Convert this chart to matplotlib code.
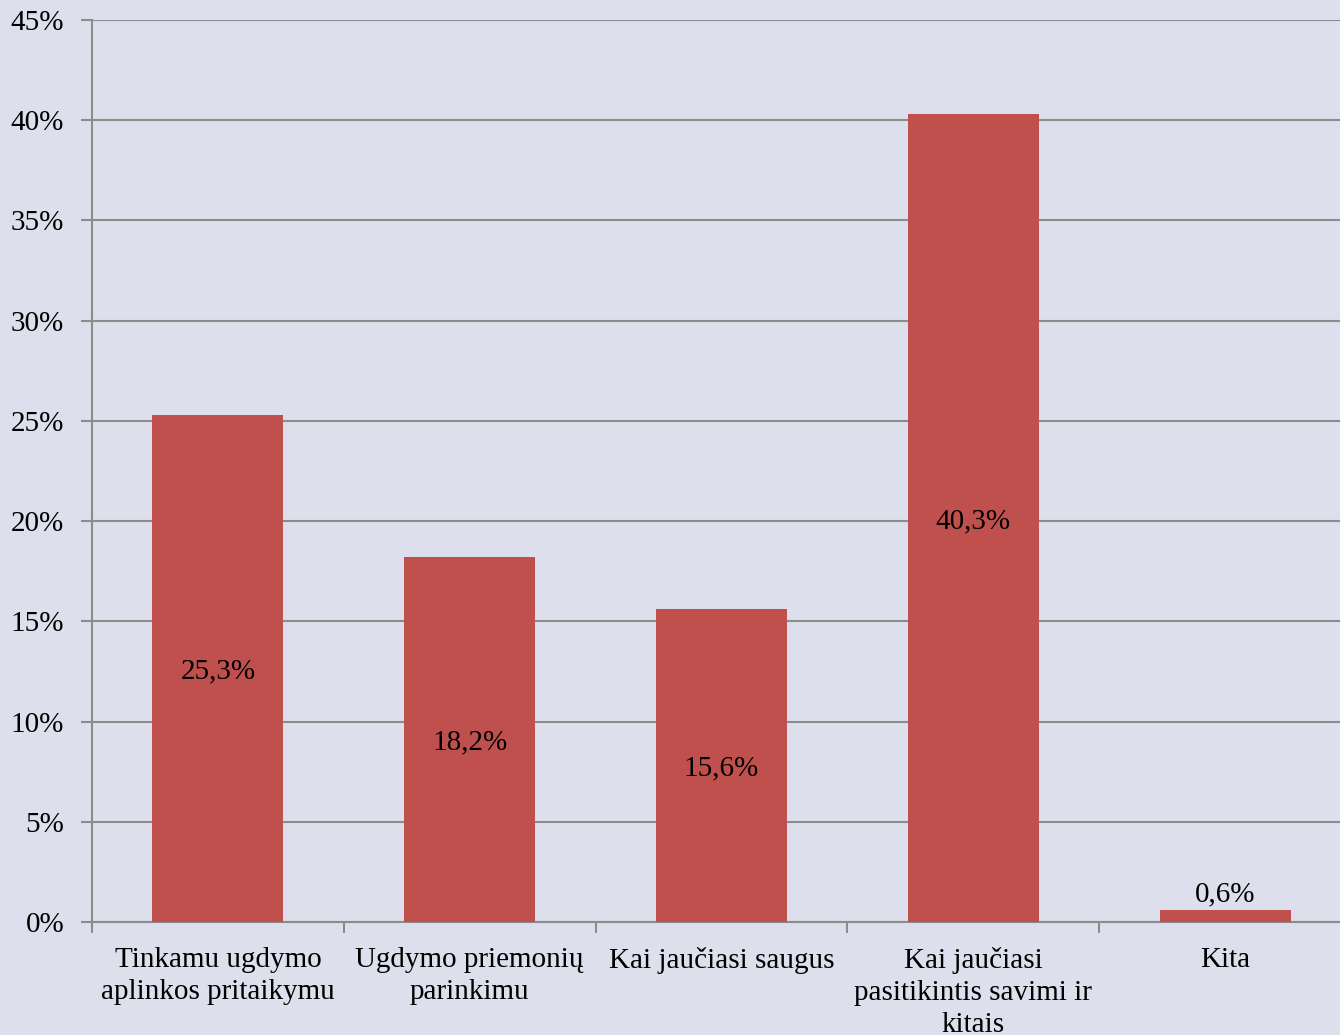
import matplotlib
matplotlib.use("Agg")
from matplotlib import pyplot as plt
import numpy as np

categories = ["Tinkamu ugdymo\naplinkos pritaikymu",
              "Ugdymo priemonių\nparinkimu",
              "Kai jaučiasi saugus",
              "Kai jaučiasi\npasitikintis savimi ir\nkitais",
              "Kita"]
values = [25.3, 18.2, 15.6, 40.3, 0.6]
value_labels = ["25,3%", "18,2%", "15,6%", "40,3%", "0,6%"]
y_ticks = [0, 5, 10, 15, 20, 25, 30, 35, 40, 45]

bg = "#DDE0EC"
bar_color = "#C0504D"
grid_color = "#8C8C8C"
fs = 21

plt.rcParams['font.family'] = ['Liberation Serif', 'DejaVu Serif']

fig = plt.figure(figsize=(13.4, 10.35), dpi=100, facecolor=bg)
# the plot area runs a little past the right edge of the picture
ax = fig.add_axes([92 / 1340, 1 - 922 / 1035, 1259 / 1340, (922 - 20) / 1035])
ax.set_facecolor(bg)

x = np.arange(len(categories))
ax.bar(x, values, width=0.52, color=bar_color, zorder=3)

for i, (v, lab) in enumerate(zip(values, value_labels)):
    if v > 5:
        ax.text(i, v / 2, lab, ha="center", va="center_baseline", fontsize=fs, zorder=4)
    else:
        ax.text(i, v + 0.12, lab, ha="center", va="bottom", fontsize=fs, zorder=4)

ax.set_xlim(-0.5, len(categories) - 0.5)
ax.set_ylim(0, 45)
ax.set_yticks(y_ticks)
ax.set_yticklabels([f"{t}%" for t in y_ticks], fontsize=fs)
ax.yaxis.grid(True, color=grid_color, linewidth=1.5, zorder=0)
ax.tick_params(axis="y", length=8, width=1.5, color=grid_color, pad=12)

ax.set_xticks(x)
ax.set_xticklabels(categories, fontsize=fs, linespacing=1.3, va="top")
ax.set_xticks(np.arange(len(categories) + 1) - 0.5, minor=True)
ax.tick_params(axis="x", which="major", length=0, pad=18)
ax.tick_params(axis="x", which="minor", length=8, width=1.5, color=grid_color)

for side in ["top", "right"]:
    ax.spines[side].set_visible(False)
for side in ["left", "bottom"]:
    ax.spines[side].set_color(grid_color)
    ax.spines[side].set_linewidth(1.5)

fig.savefig("out.png", dpi=100, facecolor=bg)
